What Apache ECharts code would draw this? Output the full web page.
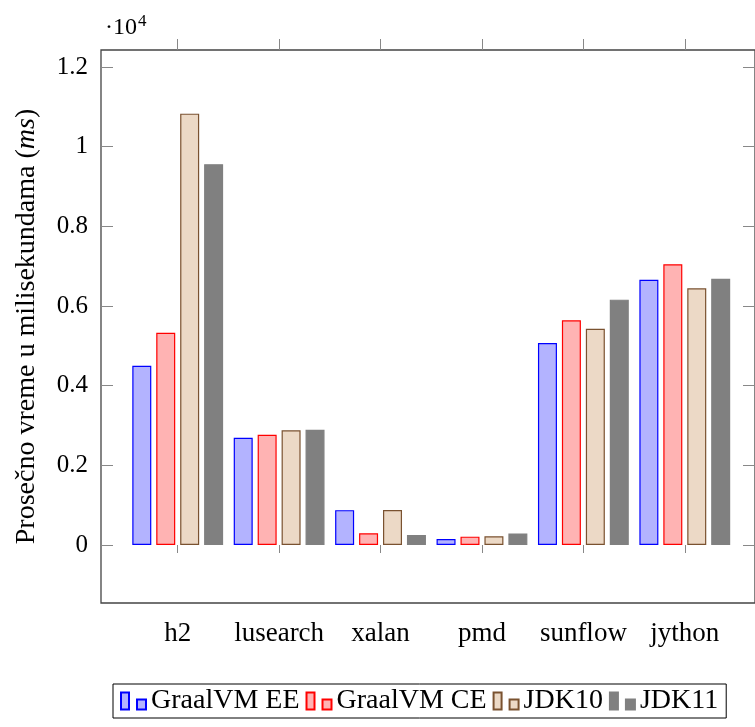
<!DOCTYPE html>
<html>
<head>
<meta charset="utf-8">
<script src="https://cdn.jsdelivr.net/npm/echarts@6/dist/echarts.min.js"></script>
<style>
html,body{margin:0;padding:0;background:#fff;}
#chart{width:755px;height:727px;}
</style>
</head>
<body>
<div id="chart"></div>
<script>
const categories = ['h2', 'lusearch', 'xalan', 'pmd', 'sunflow', 'jython'];
const seriesNames = ['GraalVM EE', 'GraalVM CE', 'JDK10', 'JDK11'];
const graalEE = [4500, 2690, 875, 150, 5070, 6660];
const graalCE = [5330, 2770, 295, 210, 5640, 7050];
const jdk10 = [10830, 2880, 880, 220, 5430, 6445];
const jdk11 = [9560, 2895, 250, 290, 6160, 6685];
const yTicks = [0, 2000, 4000, 6000, 8000, 10000, 12000];
const yMin = -1456, yMax = 12428;

const fills = ['#b3b3ff', '#ffb3b3', '#ecd9c6', '#808080'];
const strokes = ['#0000ff', '#ff0000', '#7a5230', '#808080'];
const values = [graalEE, graalCE, jdk10, jdk11];

const FONT = 'Liberation Serif';
const chart = echarts.init(document.getElementById('chart'), null, {renderer: 'canvas'});

const frameTop = 50, frameBottom = 124;
const option = {
  backgroundColor: '#fff',
  animation: false,
  grid: [
    {left: 101, right: -7, top: frameTop, bottom: frameBottom, show: true, borderColor: '#444', borderWidth: 1.3, backgroundColor: 'transparent'},
    {left: 127, right: 19.5, top: frameTop, bottom: frameBottom}
  ],
  xAxis: [
    {gridIndex: 0, type: 'value', min: 0, max: 1, show: false},
    {gridIndex: 1, type: 'category', data: categories, position: 'bottom',
     axisLine: {show: false},
     axisTick: {show: true, alignWithLabel: true, inside: false, length: 8, interval: 0, lineStyle: {color: '#888', width: 1}},
     axisLabel: {interval: 0, fontFamily: FONT, fontSize: 27, color: '#000', margin: 17}},
    {gridIndex: 1, type: 'category', data: categories, position: 'top',
     axisLine: {show: false},
     axisTick: {show: true, alignWithLabel: true, inside: false, length: 11, interval: 0, lineStyle: {color: '#888', width: 1}},
     axisLabel: {show: false, interval: 0}}
  ],
  yAxis: [
    {gridIndex: 0, type: 'value', position: 'left', min: yMin, max: yMax,
     name: 'Prosečno vreme u milisekundama ({i|ms})', nameLocation: 'middle', nameGap: 60,
     nameTextStyle: {fontFamily: FONT, fontSize: 28, color: '#000',
       rich: {i: {fontFamily: FONT, fontSize: 28, fontStyle: 'italic', color: '#000'}}},
     axisLine: {show: false},
     splitLine: {show: false},
     axisTick: {show: true, inside: true, length: 12, customValues: yTicks, lineStyle: {color: '#888', width: 1}},
     axisLabel: {customValues: yTicks, fontFamily: FONT, fontSize: 25, color: '#000', margin: 13,
       formatter: v => String(+(v / 10000).toFixed(1))}},
    {gridIndex: 0, type: 'value', position: 'right', min: yMin, max: yMax,
     axisLine: {show: false}, splitLine: {show: false},
     axisTick: {show: true, inside: true, length: 12, customValues: yTicks, lineStyle: {color: '#888', width: 1}},
     axisLabel: {show: false}},
    {gridIndex: 1, type: 'value', min: yMin, max: yMax, show: false, splitLine: {show: false}}
  ],
  legend: {
    left: 113, top: 684,
    orient: 'horizontal',
    padding: [3, 8, 3, 7],
    itemGap: 6,
    itemWidth: 25, itemHeight: 17,
    icon: 'path://M0,0h8v17h-8z M16,7h9v10h-9z',
    borderColor: '#000', borderWidth: 1,
    textStyle: {fontFamily: FONT, fontSize: 28, color: '#000'},
    data: seriesNames
  },
  graphic: [
    {type: 'text', left: 105, top: 13,
     style: {text: '·10{s|4}', fontFamily: FONT, fontSize: 24, fill: '#000',
       rich: {s: {fontFamily: FONT, fontSize: 17, verticalAlign: 'top', padding: [0, 0, 12, 1]}}}}
  ],
  series: seriesNames.map((n, i) => ({
    name: n, type: 'bar', xAxisIndex: 1, yAxisIndex: 2,
    data: values[i],
    barWidth: 19, barGap: '26%',
    itemStyle: {color: fills[i], borderColor: strokes[i], borderWidth: 1.2}
  }))
};
chart.setOption(option);
</script>
</body>
</html>
